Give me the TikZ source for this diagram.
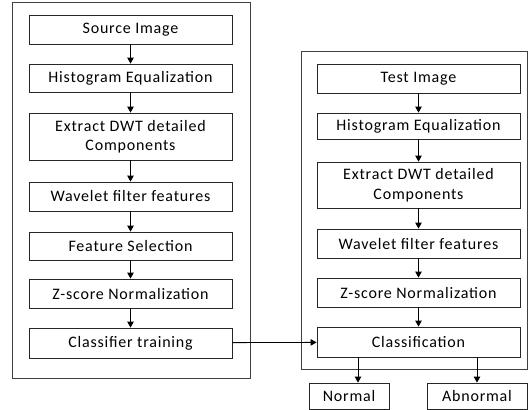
\documentclass[tikz,border=0pt]{standalone}
\usepackage{fontspec}
\setmainfont{Carlito}[LetterSpace=5]
\usetikzlibrary{arrows.meta}
\begin{document}
\begin{tikzpicture}[x=1pt,y=-1pt,
  box/.style={draw=black!85,line width=0.8pt,inner sep=0pt,font=\fontsize{16}{19.5}\selectfont,align=center},
  frame/.style={draw=black!75,line width=0.8pt},
  arr/.style={line width=0.8pt,-{Triangle[length=6pt,width=6.5pt]}}]
\useasboundingbox (0,0) rectangle (528,410);
\draw[frame] (12,2.5) rectangle (250,378);
\draw[frame] (301,51) rectangle (527.5,369);
% left column
\node[box,minimum width=203pt,minimum height=29pt] (s1) at (130.5,29.5) {Source Image};
\node[box,minimum width=203pt,minimum height=28pt] (s2) at (130.5,78) {Histogram Equalization};
\node[box,minimum width=203pt,minimum height=47pt] (s3) at (130.5,136.5) {Extract DWT detailed\\Components};
\node[box,minimum width=203pt,minimum height=29pt] (s4) at (130.5,196.5) {Wavelet filter features};
\node[box,minimum width=203pt,minimum height=28pt] (s5) at (130.5,246) {Feature Selection};
\node[box,minimum width=203pt,minimum height=29pt] (s6) at (130.5,293.5) {Z-score Normalization};
\node[box,minimum width=203pt,minimum height=30pt] (s7) at (130.5,343) {Classifier training};
% right column
\node[box,minimum width=203pt,minimum height=29pt] (t1) at (418.5,78.5) {Test Image};
\node[box,minimum width=203pt,minimum height=26pt] (t2) at (418.5,126) {Histogram Equalization};
\node[box,minimum width=203pt,minimum height=46pt] (t3) at (418.5,185) {Extract DWT detailed\\Components};
\node[box,minimum width=203pt,minimum height=29pt] (t4) at (418.5,243.5) {Wavelet filter features};
\node[box,minimum width=203pt,minimum height=29pt] (t5) at (418.5,292.5) {Z-score Normalization};
\node[box,minimum width=203pt,minimum height=30pt] (t6) at (418.5,342) {Classification};
\node[box,minimum width=80pt,minimum height=26pt] (n) at (349,396) {Normal};
\node[box,minimum width=100pt,minimum height=26pt] (a) at (477,396) {Abnormal};
% arrows
\foreach \p/\q in {s1/s2,s2/s3,s3/s4,s4/s5,s5/s6,s6/s7,t1/t2,t2/t3,t3/t4,t4/t5,t5/t6}
  \draw[arr] (\p) -- (\q);
\draw[arr] (s7) -- (t6);
\coordinate (nx) at (358,0);
\draw[arr] (t6.south -| nx) -- (n.north -| nx);
\draw[arr] (t6.south -| a) -- (a.north);
\end{tikzpicture}
\end{document}
